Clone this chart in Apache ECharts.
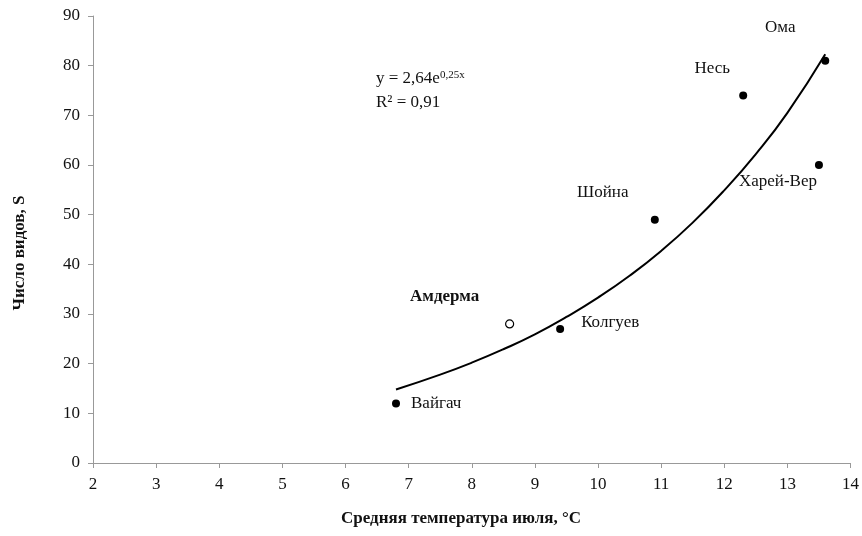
<!DOCTYPE html>
<html>
<head>
<meta charset="utf-8">
<script src="https://cdn.jsdelivr.net/npm/echarts@6/dist/echarts.min.js"></script>
<style>
html,body{margin:0;padding:0;background:#fff;}
#chart{width:862px;height:536px;}
</style>
</head>
<body>
<div id="chart"></div>
<script>
// stations: name, July mean temperature, species count
var stations = ['Вайгач', 'Амдерма', 'Колгуев', 'Шойна', 'Несь', 'Харей-Вер', 'Ома'];
var tempJuly = [6.8, 8.6, 9.4, 10.9, 12.3, 13.5, 13.6];
var species = [12, 28, 27, 49, 74, 60, 81];
var openMarker = [false, true, false, false, false, false, false];

// trend line
var trendX = [6.8, 7.5, 8.0, 8.5, 9.0, 9.5, 10.0, 10.5, 11.0, 11.5, 12.0, 12.5, 13.0, 13.6];
var trendY = [14.8, 17.8, 20.2, 22.9, 25.9, 29.4, 33.3, 37.7, 42.7, 48.4, 54.9, 62.2, 70.5, 82.3];

var xTicks = [2, 3, 4, 5, 6, 7, 8, 9, 10, 11, 12, 13, 14];
var yTicks = [0, 10, 20, 30, 40, 50, 60, 70, 80, 90];

var serif = '"Liberation Serif", "Times New Roman", serif';

// label placement per station: [align, dx, dy, bold]
var labelPlace = {
	'Вайгач': ['left', 15, 0, false],
	'Амдерма': ['center', -65, -27, true],
	'Колгуев': ['left', 21, -6, false],
	'Шойна': ['center', -52, -27, false],
	'Несь': ['center', -31, -27, false],
	'Харей-Вер': ['center', -41, 17, false],
	'Ома': ['center', -45, -33, false]
};

var pts = [];
for (var i = 0; i < stations.length; i++) {
	var lp = labelPlace[stations[i]];
	pts.push({
		name: stations[i],
		value: [tempJuly[i], species[i]],
		itemStyle: openMarker[i] ? {color: '#fff', borderColor: '#000', borderWidth: 1.2, opacity: 1} : {color: '#000', opacity: 1},
		label: {
			show: true,
			formatter: stations[i],
			position: 'inside',
			align: lp[0],
			verticalAlign: 'middle',
			offset: [lp[1], lp[2]],
			color: '#111',
			textBorderWidth: 0,
			fontFamily: serif,
			fontSize: 17,
			fontWeight: lp[3] ? 'bold' : 'normal'
		}
	});
}

var trend = [];
for (var j = 0; j < trendX.length; j++) {
	trend.push([trendX[j], trendY[j]]);
}

var myChart = echarts.init(document.getElementById('chart'));
var option = {
	backgroundColor: '#fff',
	animation: false,
	grid: {left: 93, right: 9, top: 16, bottom: 73},
	xAxis: {
		type: 'value',
		min: 2, max: 14, interval: 1,
		splitLine: {show: false},
		axisLine: {show: true, onZero: false, lineStyle: {color: '#999', width: 1}},
		axisTick: {show: true, length: 5, lineStyle: {color: '#999'}},
		axisLabel: {
			margin: 13, color: '#111', fontFamily: serif, fontSize: 17,
			formatter: function(v) { return xTicks.indexOf(v) >= 0 ? String(v) : ''; }
		}
	},
	yAxis: {
		type: 'value',
		min: 0, max: 90, interval: 10,
		splitLine: {show: false},
		axisLine: {show: true, lineStyle: {color: '#999', width: 1}},
		axisTick: {show: true, length: 5, lineStyle: {color: '#999'}},
		axisLabel: {
			margin: 13, color: '#111', fontFamily: serif, fontSize: 17,
			formatter: function(v) { return yTicks.indexOf(v) >= 0 ? String(v) : ''; }
		}
	},
	graphic: [
		{
			type: 'text', left: 376, top: 70,
			style: {
				text: '{a|y = 2,64e}{b|0,25x}',
				rich: {
					a: {fontFamily: serif, fontSize: 17, fill: '#111', verticalAlign: 'bottom'},
					b: {fontFamily: serif, fontSize: 11, fill: '#111', verticalAlign: 'top'}
				}
			}
		},
		{
			type: 'text', left: 376, top: 94,
			style: {text: 'R² = 0,91', fontFamily: serif, fontSize: 17, fill: '#111'}
		},
		{
			type: 'text', x: 20, y: 253, rotation: Math.PI / 2,
			style: {
				text: 'Число видов, S', fontFamily: serif, fontSize: 17, fontWeight: 'bold',
				fill: '#111', align: 'center', verticalAlign: 'middle'
			}
		},
		{
			type: 'text', x: 461, y: 519,
			style: {
				text: 'Средняя температура июля, °С', fontFamily: serif, fontSize: 17, fontWeight: 'bold',
				fill: '#111', align: 'center', verticalAlign: 'middle'
			}
		}
	],
	series: [
		{
			name: 'trend',
			type: 'line',
			data: trend,
			smooth: true,
			showSymbol: false,
			lineStyle: {color: '#000', width: 2},
			z: 2
		},
		{
			name: 'stations',
			type: 'scatter',
			data: pts,
			symbol: 'circle',
			symbolSize: 8,
			itemStyle: {opacity: 1},
			z: 3
		}
	]
};
myChart.setOption(option);
</script>
</body>
</html>
